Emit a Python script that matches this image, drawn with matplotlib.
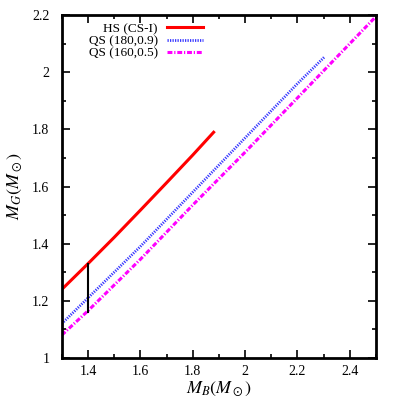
import matplotlib
matplotlib.use("Agg")
import matplotlib.pyplot as plt
from matplotlib.ticker import MultipleLocator

plt.rcParams["font.family"] = "Liberation Serif"
plt.rcParams["mathtext.fontset"] = "stix"

# HS (CS-I)
hs_mb = [1.30, 1.40, 1.50, 1.60, 1.70, 1.80, 1.88]
hs_mg = [1.240, 1.330, 1.422, 1.517, 1.613, 1.710, 1.790]

# QS (180, 0.9)
qs1_mb = [1.30, 1.40, 1.60, 1.80, 2.00, 2.20, 2.305]
qs1_mg = [1.120, 1.210, 1.390, 1.580, 1.770, 1.960, 2.055]

# QS (160, 0.5)
qs2_mb = [1.30, 1.40, 1.60, 1.80, 2.00, 2.20, 2.40, 2.50]
qs2_mg = [1.080, 1.165, 1.345, 1.535, 1.720, 1.910, 2.100, 2.195]

# vertical marker at M_B = 1.4
mark_x = [1.4, 1.4]
mark_y = [1.162, 1.330]

fig, ax = plt.subplots(figsize=(3.99, 3.99), dpi=100)
fig.subplots_adjust(left=0.155, right=0.942, top=0.962, bottom=0.103)

ax.plot(hs_mb, hs_mg, color="#ff0000", lw=2.2, label="HS (CS-I)")
ax.plot(qs1_mb, qs1_mg, color="#3838ff", lw=2.0, ls=(0, (0.45, 0.45)),
        label="QS (180,0.9)")
ax.plot(qs2_mb, qs2_mg, color="#ff00ff", lw=2.2, ls=(0, (1.6, 0.6, 0.4, 0.6)),
        label="QS (160,0.5)")
ax.plot(mark_x, mark_y, color="black", lw=1.5)

ax.set_xlim(1.3, 2.5)
ax.set_ylim(1.0, 2.2)
ax.xaxis.set_minor_locator(MultipleLocator(0.1))
ax.yaxis.set_minor_locator(MultipleLocator(0.1))
ax.set_xticks([1.4, 1.6, 1.8, 2.0, 2.2, 2.4])
ax.set_xticklabels(["1.4", "1.6", "1.8", "2", "2.2", "2.4"])
ax.set_yticks([1.0, 1.2, 1.4, 1.6, 1.8, 2.0, 2.2])
ax.set_yticklabels(["1", "1.2", "1.4", "1.6", "1.8", "2", "2.2"])
ax.tick_params(which="both", direction="in", top=True, right=True,
               labelsize=10, width=1.2)
ax.tick_params(which="major", length=6)
ax.tick_params(which="minor", length=3)
ax.tick_params(axis="x", which="major", pad=5)
ax.tick_params(axis="y", which="major", pad=9)
for sp in ax.spines.values():
    sp.set_linewidth(2)

ax.set_xlabel(r"$M_B(M_\odot)$", fontsize=13, labelpad=1)
ax.set_ylabel(r"$M_G(M_\odot)$", fontsize=13, labelpad=6)

ax.legend(loc="upper right", bbox_to_anchor=(0.449, 0.978), frameon=False,
          markerfirst=False, fontsize=9.5, handlelength=2.75,
          labelspacing=0.0, handletextpad=0.65, borderaxespad=0,
          borderpad=0)

fig.savefig("out.png", dpi=100)
